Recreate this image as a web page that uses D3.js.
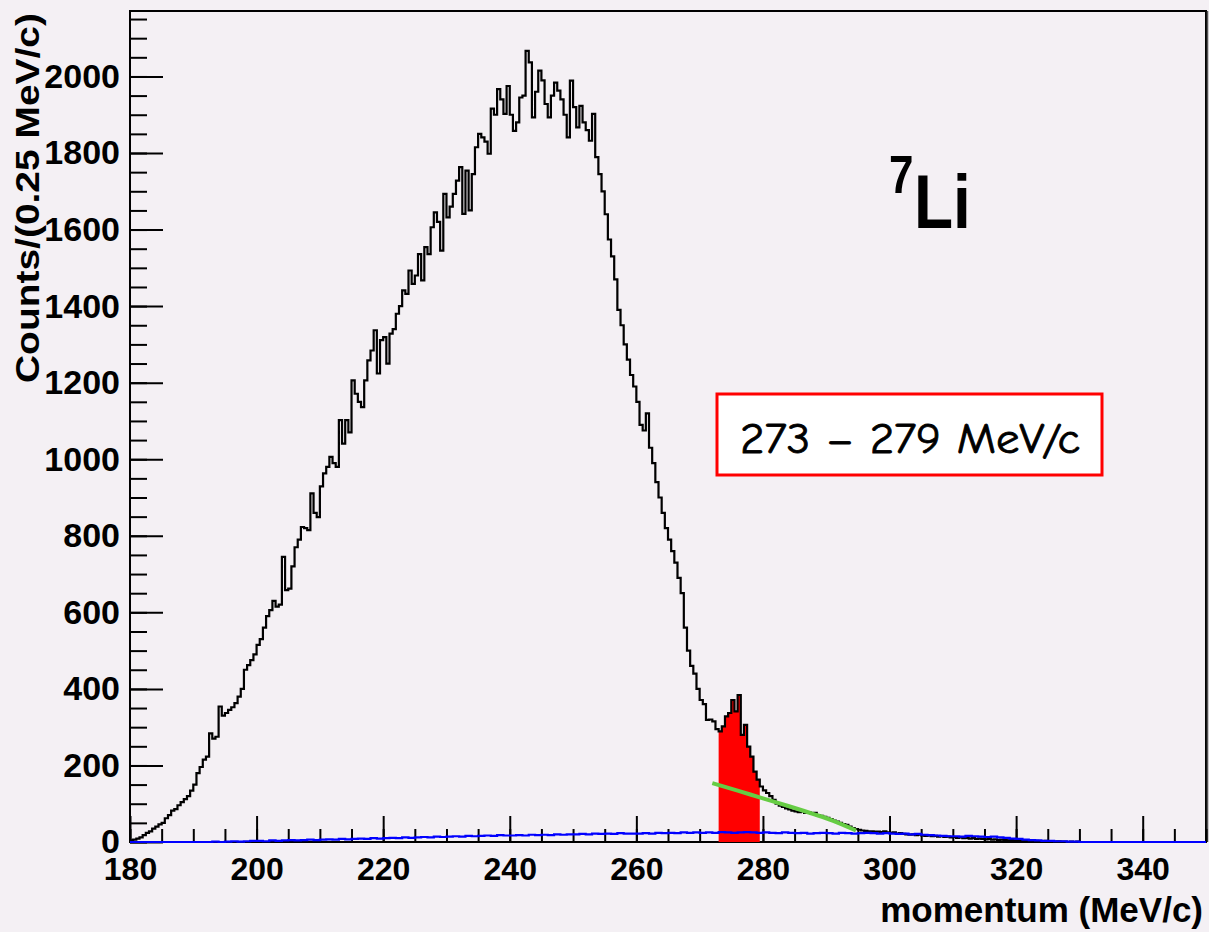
<!DOCTYPE html>
<html>
<head>
<meta charset="utf-8">
<script src="https://cdn.jsdelivr.net/npm/d3@7"></script>
<style>
  body { margin: 0; background: #f4f0f4; }
  svg { display: block; }
</style>
</head>
<body>
<svg id="chart" width="1209" height="932"></svg>
<script>
// histogram of 7Li momentum, 0.5 MeV/c bins starting at 180
var binStart = 180;
var binWidth = 0.5;
var counts = [
  4, 6, 9, 12, 18, 24, 28, 35, 40, 46,
  50, 62, 70, 82, 86, 96, 104, 112, 120, 134,
  150, 180, 196, 215, 223, 284, 270, 275, 354, 330,
  337, 345, 352, 363, 380, 400, 450, 462, 475, 490,
  515, 530, 560, 590, 606, 630, 615, 620, 745, 658,
  662, 720, 770, 790, 823, 820, 815, 911, 860, 849,
  929, 963, 980, 1006, 990, 980, 1102, 1041, 1102, 1070,
  1206, 1171, 1150, 1136, 1206, 1258, 1284, 1337, 1224, 1311,
  1319, 1250, 1328, 1340, 1380, 1400, 1441, 1432, 1493, 1458,
  1480, 1536, 1467, 1554, 1536, 1606, 1645, 1620, 1545, 1693,
  1632, 1660, 1693, 1728, 1763, 1641, 1754, 1650, 1745, 1815,
  1850, 1841, 1830, 1798, 1916, 1900, 1967, 1940, 1902, 1975,
  1900, 1858, 1880, 1945, 1950, 2067, 2037, 1893, 1960, 2015,
  1990, 1928, 1893, 1950, 1984, 1963, 1940, 1900, 1841, 1989,
  1920, 1867, 1923, 1880, 1860, 1832, 1902, 1789, 1745, 1700,
  1640, 1574, 1530, 1470, 1390, 1350, 1300, 1260, 1220, 1190,
  1150, 1090, 1075, 1120, 1030, 990, 940, 900, 860, 820,
  790, 760, 730, 690, 650, 560, 500, 460, 440, 400,
  371, 360, 319, 320, 315, 295, 289, 302, 328, 337,
  371, 341, 384, 280, 306, 249, 223, 184, 163, 145,
  135, 128, 120, 110, 100, 95, 92, 88, 85, 82,
  80, 78, 80, 76, 78, 74, 76, 70, 68, 66,
  63, 60, 56, 53, 50, 47, 45, 40, 36, 34,
  32, 30, 29, 28, 28, 27, 27, 26, 28, 25,
  24, 25, 22, 23, 21, 20, 19, 20, 18, 19,
  17, 16, 17, 15, 16, 14, 15, 13, 14, 12,
  13, 11, 12, 10, 11, 9, 10, 8, 9, 8,
  7, 8, 6, 7, 5, 6, 5, 4, 5, 4,
  4, 3, 4, 3, 3, 2, 3, 2, 2, 3,
  1, 2, 1, 2, 1, 1, 0, 1, 0, 1,
  0, 0, 0, 0, 0, 0, 0, 0, 0, 0,
  0, 0, 0, 0, 0, 0, 0, 0, 0, 0,
  0, 0, 0, 0, 0, 0, 0, 0, 0, 0,
  0, 0, 0, 0, 0, 0, 0, 0, 0, 0
];

// background (blue) histogram, 1 MeV/c bins
var bgBinWidth = 1;
var bgCounts = [
  0, 0, 0, 0, 0, 0, 0, 0, 0, 0,
  0, 0, 0, 1, 0, 1, 2, 1, 2, 3,
  3, 2, 4, 3, 4, 5, 4, 5, 6, 5,
  6, 7, 6, 8, 7, 8, 9, 8, 10, 9,
  10, 11, 10, 12, 11, 12, 13, 12, 14, 13,
  14, 15, 14, 16, 15, 16, 17, 16, 18, 17,
  17, 18, 17, 19, 18, 19, 18, 20, 19, 20,
  20, 21, 20, 22, 21, 22, 21, 23, 22, 22,
  22, 23, 22, 24, 23, 24, 23, 25, 24, 25,
  24, 25, 24, 26, 25, 24, 25, 26, 25, 24,
  25, 24, 23, 25, 24, 23, 24, 22, 23, 24,
  23, 22, 24, 23, 22, 23, 24, 23, 22, 23,
  22, 21, 22, 20, 21, 19, 18, 17, 16, 15,
  15, 14, 16, 15, 14, 13, 14, 12, 11, 9,
  8, 6, 5, 4, 3, 3, 2, 2, 1, 1,
  0, 0, 0, 0, 0, 0, 0, 0, 0, 0,
  0, 0, 0, 0, 0, 0, 0, 0, 0, 0
];

// green fit under the peak
var fitP = [272, 276, 280, 284, 288, 291, 294.7];
var fitC = [154, 134, 114, 94, 73, 56, 30];

// selected window (red)
var selLo = 273;
var selHi = 279.5;

var xMajor = [180, 200, 220, 240, 260, 280, 300, 320, 340];
var yMajor = [0, 200, 400, 600, 800, 1000, 1200, 1400, 1600, 1800, 2000];

var svg = d3.select("#chart");
var W = 1209, H = 932;
var frameL = 130, frameR = 1206, frameT = 11, frameB = 842;

var x = d3.scaleLinear().domain([180, 350]).range([frameL, frameR]);
var y = d3.scaleLinear().domain([0, 2171]).range([frameB, frameT]);

svg.append("rect").attr("width", W).attr("height", H).attr("fill", "#f4f0f4");

var defs = svg.append("defs");
defs.append("clipPath").attr("id", "frame")
  .append("rect").attr("x", frameL).attr("y", frameT)
  .attr("width", frameR - frameL).attr("height", frameB - frameT + 2);

// step points for a histogram
function stepPoints(vals, start, width) {
  var pts = vals.map(function(c, i) { return [start + i * width, c]; });
  pts.push([start + vals.length * width, vals[vals.length - 1]]);
  return pts;
}

var stepLine = d3.line()
  .x(function(d) { return x(d[0]); })
  .y(function(d) { return y(d[1]); })
  .curve(d3.curveStepAfter);

var font = "'Liberation Sans', Arial, Helvetica, sans-serif";

// frame first, histograms drawn over it (as in ROOT)
svg.append("rect")
  .attr("x", frameL).attr("y", frameT)
  .attr("width", frameR - frameL).attr("height", frameB - frameT)
  .attr("fill", "none").attr("stroke", "#000").attr("stroke-width", 2);
svg.append("line")
  .attr("x1", frameR + 1.5).attr("x2", frameR + 1.5)
  .attr("y1", frameT).attr("y2", frameB)
  .attr("stroke", "#555").attr("stroke-width", 1.5);

// axes ticks
var xAxis = svg.append("g")
  .attr("transform", "translate(0," + frameB + ")")
  .call(d3.axisBottom(x).tickValues(xMajor).tickSize(-26).tickSizeOuter(0).tickPadding(15));
svg.append("g")
  .attr("transform", "translate(0," + frameB + ")")
  .call(d3.axisBottom(x).tickValues(d3.range(180, 351, 5)).tickSize(-13).tickSizeOuter(0).tickFormat(""));

var yAxis = svg.append("g")
  .attr("transform", "translate(" + frameL + ",0)")
  .call(d3.axisLeft(y).tickValues(yMajor).tickSize(-33).tickSizeOuter(0).tickPadding(10).tickFormat(d3.format("d")));
svg.append("g")
  .attr("transform", "translate(" + frameL + ",0)")
  .call(d3.axisLeft(y).tickValues(d3.range(0, 2171, 50)).tickSize(-17).tickSizeOuter(0).tickFormat(""));

svg.selectAll(".tick line").attr("stroke", "#000").attr("stroke-width", 2);
svg.selectAll(".domain").remove();

xAxis.selectAll("text")
  .style("font-family", font).style("font-weight", "bold")
  .style("font-size", "32px").attr("fill", "#000");
yAxis.selectAll("text")
  .style("font-family", font).style("font-weight", "bold")
  .style("font-size", "34px").attr("fill", "#000");

var plot = svg.append("g").attr("clip-path", "url(#frame)");

// red selected region
var selPts = [];
counts.forEach(function(c, i) {
  var p = binStart + i * binWidth;
  if (p >= selLo && p < selHi) selPts.push([p, c]);
});
selPts.push([selHi, selPts[selPts.length - 1][1]]);

var selArea = d3.area()
  .x(function(d) { return x(d[0]); })
  .y0(y(0))
  .y1(function(d) { return y(d[1]); })
  .curve(d3.curveStepAfter);

plot.append("path")
  .datum(selPts)
  .attr("d", selArea)
  .attr("fill", "#ff0000");

// black histogram
plot.append("path")
  .datum(stepPoints(counts, binStart, binWidth))
  .attr("d", stepLine)
  .attr("fill", "none")
  .attr("stroke", "#000")
  .attr("stroke-width", 2.2);

// blue background histogram
plot.append("path")
  .datum(stepPoints(bgCounts, binStart, bgBinWidth))
  .attr("d", stepLine)
  .attr("fill", "none")
  .attr("stroke", "#0000ff")
  .attr("stroke-width", 2.2);

// green fit
var fitLine = d3.line()
  .x(function(d) { return x(d[0]); })
  .y(function(d) { return y(d[1]); })
  .curve(d3.curveMonotoneX);

plot.append("path")
  .datum(fitP.map(function(p, i) { return [p, fitC[i]]; }))
  .attr("d", fitLine)
  .attr("fill", "none")
  .attr("stroke", "#66cc44")
  .attr("stroke-width", 4);

// axis titles
svg.append("text")
  .attr("x", 1203).attr("y", 922)
  .attr("text-anchor", "end")
  .style("font-family", font).style("font-weight", "bold").style("font-size", "35px")
  .text("momentum (MeV/c)");

svg.append("text")
  .attr("transform", "translate(39,13) rotate(-90)")
  .attr("text-anchor", "end")
  .attr("textLength", 370).attr("lengthAdjust", "spacingAndGlyphs")
  .style("font-family", font).style("font-weight", "bold").style("font-size", "34px")
  .text("Counts/(0.25 MeV/c)");

// 7Li label
svg.append("text")
  .attr("transform", "translate(889,193) scale(1,1.2)")
  .style("font-family", font).style("font-weight", "bold").style("font-size", "44px")
  .text("7");
svg.append("text")
  .attr("transform", "translate(914,228) scale(1,1.2)")
  .style("font-family", font).style("font-weight", "bold").style("font-size", "64px")
  .text("Li");

// selection label box
svg.append("rect")
  .attr("x", 717).attr("y", 394).attr("width", 385).attr("height", 81)
  .attr("fill", "#fff").attr("stroke", "#ff0000").attr("stroke-width", 3);
svg.append("text")
  .attr("x", 740).attr("y", 453)
  .attr("textLength", 340).attr("lengthAdjust", "spacingAndGlyphs")
  .attr("stroke", "#000").attr("stroke-width", 0.8)
  .style("font-family", "'Comic Sans MS', 'Comic Neue', 'DejaVu Sans', sans-serif")
  .style("font-size", "42px")
  .text("273 \u2013 279 MeV/c");
</script>
</body>
</html>
